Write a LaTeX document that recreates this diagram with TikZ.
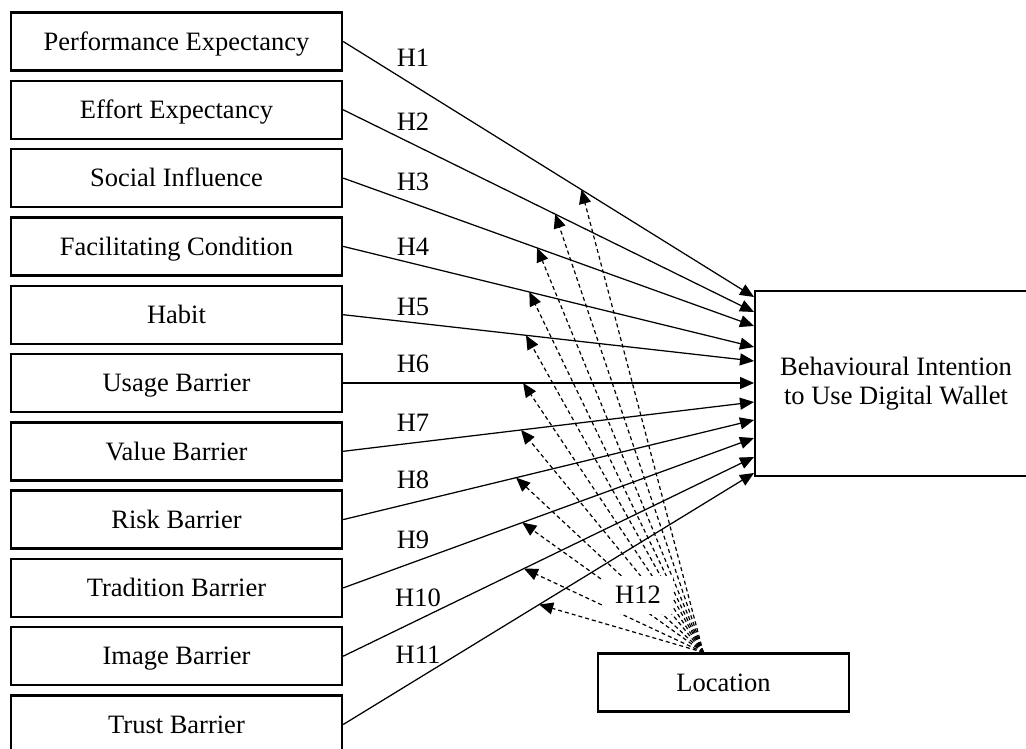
\documentclass[tikz,border=0pt]{standalone}
\usepackage{fontspec}
\setmainfont{Liberation Serif}
\usetikzlibrary{arrows.meta,calc}
\begin{document}
\begin{tikzpicture}[x=1pt,y=-1pt,
  lbl/.style={font=\fontsize{26.5pt}{28.5pt}\selectfont},
  box/.style={lbl, draw, line width=2.4pt, minimum width=331pt, minimum height=58pt, inner sep=0pt, text height=17.5pt, text depth=0pt},
  hyp/.style={-{Triangle[length=14pt,width=12pt]}, line width=1.25pt},
  mod/.style={-{Triangle[length=14pt,width=12pt]}, line width=1.2pt, dash pattern=on 4pt off 3pt},
  hlab/.style={lbl, inner sep=0pt, text height=17.5pt, text depth=0pt}]
\clip (0,0) rectangle (1026,749);
\fill[white] (0,0) rectangle (1026,749);

% left constructs
\node[box] (b1)  at (176.5, 41.5) {Performance Expectancy};
\node[box] (b2)  at (176.5,109.8) {Effort Expectancy};
\node[box] (b3)  at (176.5,178.1) {Social Influence};
\node[box] (b4)  at (176.5,246.4) {Facilitating Condition};
\node[box] (b5)  at (176.5,314.7) {Habit};
\node[box] (b6)  at (176.5,383.0) {Usage Barrier};
\node[box] (b7)  at (176.5,451.3) {Value Barrier};
\node[box] (b8)  at (176.5,519.6) {Risk Barrier};
\node[box] (b9)  at (176.5,587.9) {Tradition Barrier};
\node[box] (b10) at (176.5,656.2) {Image Barrier};
\node[box] (b11) at (176.5,724.5) {Trust Barrier};

% dependent construct
\node[draw, line width=2.4pt, lbl, minimum width=282pt, minimum height=185pt, align=center, inner sep=0pt] (bi) at (896,383.5) {Behavioural Intention\\to Use Digital Wallet};

% moderator
\node[box, minimum width=251pt] (loc) at (723.5,682.5) {Location};
\coordinate (src) at ($(loc.north west)!0.42!(loc.north east)$);

% arrow targets on the left side of the dependent box
\coordinate (t1)  at (754,297);
\coordinate (t2)  at (754,312);
\coordinate (t3)  at (754,326);
\coordinate (t4)  at (754,347);
\coordinate (t5)  at (754,361);
\coordinate (t6)  at (754,383);
\coordinate (t7)  at (754,402);
\coordinate (t8)  at (754,420);
\coordinate (t9)  at (754,438);
\coordinate (t10) at (754,457);
\coordinate (t11) at (754,473);

% hypotheses H1-H11
\draw[hyp] (b1.east)  -- coordinate[pos=0.580] (m1)  (t1);
\draw[hyp] (b2.east)  -- coordinate[pos=0.516] (m2)  (t2);
\draw[hyp] (b3.east)  -- coordinate[pos=0.472] (m3)  (t3);
\draw[hyp] (b4.east)  -- coordinate[pos=0.453] (m4)  (t4);
\draw[hyp] (b5.east)  -- coordinate[pos=0.445] (m5)  (t5);
\draw[hyp] (b6.east)  -- coordinate[pos=0.438] (m6)  (t6);
\draw[hyp] (b7.east)  -- coordinate[pos=0.433] (m7)  (t7);
\draw[hyp] (b8.east)  -- coordinate[pos=0.421] (m8)  (t8);
\draw[hyp] (b9.east)  -- coordinate[pos=0.436] (m9)  (t9);
\draw[hyp] (b10.east) -- coordinate[pos=0.440] (m10) (t10);
\draw[hyp] (b11.east) -- coordinate[pos=0.477] (m11) (t11);

% moderation H12
\foreach \i in {1,...,11} {
  \draw[mod] (src) -- (m\i);
}

% labels
\node[hlab] (h1)  at (413, 58) {H1};
\node[hlab] (h2)  at (413,122) {H2};
\node[hlab] (h3)  at (413,182) {H3};
\node[hlab] (h4)  at (413,247) {H4};
\node[hlab] (h5)  at (413,307) {H5};
\node[hlab] (h6)  at (413,364) {H6};
\node[hlab] (h7)  at (413,423) {H7};
\node[hlab] (h8)  at (413,480) {H8};
\node[hlab] (h9)  at (413,540) {H9};
\node[hlab] (h10) at (418,598) {H10};
\node[hlab] (h11) at (418,655) {H11};
\node[hlab, fill=white, inner xsep=12pt, inner ysep=10pt] (h12) at (638,595) {H12};
\end{tikzpicture}
\end{document}
